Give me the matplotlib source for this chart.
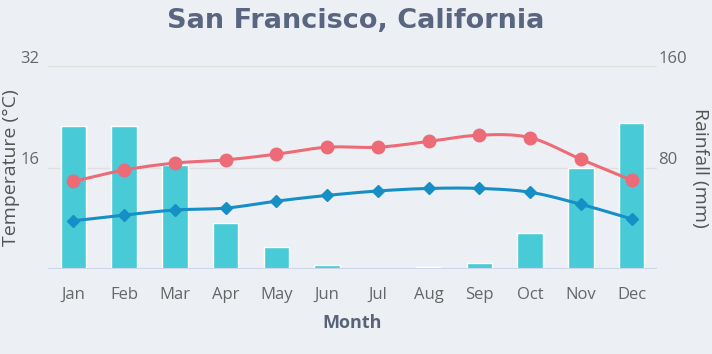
import numpy as np
import matplotlib
matplotlib.use("Agg")
import matplotlib.pyplot as plt
from matplotlib.transforms import ScaledTranslation

months = ["Jan", "Feb", "Mar", "Apr", "May", "Jun",
          "Jul", "Aug", "Sep", "Oct", "Nov", "Dec"]
rainfall = [113, 113, 82, 36, 17, 3, 0.3, 1.5, 4.5, 28, 80, 115]
temp_high = [13.8, 15.6, 16.7, 17.2, 18.1, 19.2, 19.2, 20.1, 21.1, 20.7, 17.3, 14.0]
temp_low = [7.6, 8.5, 9.3, 9.6, 10.7, 11.6, 12.3, 12.7, 12.7, 12.1, 10.2, 7.9]

BG = "#ecf0f5"
BAR = "#48cbd6"
RED = "#ec6b77"
BLUE = "#168ec6"
TXT = "#666666"


def spline(x, y, n=20):
    # smooth curve through the points (cubic hermite, catmull-rom tangents)
    x = np.asarray(x, float)
    y = np.asarray(y, float)
    m = np.zeros_like(y)
    m[1:-1] = (y[2:] - y[:-2]) / (x[2:] - x[:-2])
    m[0] = (y[1] - y[0]) / (x[1] - x[0])
    m[-1] = (y[-1] - y[-2]) / (x[-1] - x[-2])
    xs, ys = [], []
    for i in range(len(x) - 1):
        h = x[i + 1] - x[i]
        t = np.linspace(0, 1, n, endpoint=False)
        h00 = 2 * t**3 - 3 * t**2 + 1
        h10 = t**3 - 2 * t**2 + t
        h01 = -2 * t**3 + 3 * t**2
        h11 = t**3 - t**2
        xs.append(x[i] + t * h)
        ys.append(h00 * y[i] + h10 * h * m[i] + h01 * y[i + 1] + h11 * h * m[i + 1])
    xs.append([x[-1]])
    ys.append([y[-1]])
    return np.concatenate(xs), np.concatenate(ys)


fig = plt.figure(figsize=(7.12, 3.54), dpi=100, facecolor=BG)
ax = fig.add_axes([48 / 712, 1 - 269 / 354, 609 / 712, 203 / 354])
ax.set_facecolor(BG)
ax2 = ax.twinx()

x = np.arange(len(months))
ax2.bar(x, rainfall, width=0.5, color=BAR, edgecolor="white", linewidth=1.0, zorder=1)
ax2.set_ylim(0, 160)
ax2.set_yticks([80, 160])

# lines on top of bars
ax.set_zorder(ax2.get_zorder() + 1)
ax.patch.set_visible(False)
ax2.patch.set_visible(True)
ax2.patch.set_facecolor(BG)

sx, sy = spline(x, temp_high)
ax.plot(sx, sy, color=RED, lw=2.2, zorder=3)
ax.plot(x, temp_high, "o", color=RED, ms=9, zorder=4)
sx, sy = spline(x, temp_low)
ax.plot(sx, sy, color=BLUE, lw=2.2, zorder=3)
ax.plot(x, temp_low, "D", color=BLUE, ms=6.5, zorder=4)

ax.set_xlim(-0.5, 11.5)
ax.set_ylim(0, 32)
ax.set_yticks([0, 16, 32])
ax.set_yticklabels(["", "16", "32"])
ax.set_xticks(x)
ax.set_xticklabels(months)

for a in (ax, ax2):
    for s in a.spines.values():
        s.set_visible(False)
    a.tick_params(length=0, colors=TXT, labelsize=12)
    for lab in a.get_xticklabels() + a.get_yticklabels():
        lab.set_family("Open Sans")
ax.tick_params(axis="x", pad=13)
ax.tick_params(axis="y", pad=6)
ax2.tick_params(axis="y", pad=1)

# y tick labels sit just above their grid lines
up = ScaledTranslation(0, 9 / 100, fig.dpi_scale_trans)
for a in (ax, ax2):
    for lab in a.get_yticklabels():
        lab.set_transform(lab.get_transform() + up)

ax2.grid(axis="y", color="#e0e0e0", lw=1, zorder=0)
ax2.axhline(0, color="#ccd6eb", lw=1.5, zorder=2)
ax2.set_axisbelow(True)

ax.set_ylabel("Temperature (°C)", family="Open Sans", fontsize=14, color="#555555", va="center")
ax.yaxis.set_label_coords(-0.06, 0.5)
ax2.set_ylabel("Rainfall (mm)", family="Open Sans", fontsize=14, color="#555555",
               rotation=270, va="center")
ax2.yaxis.set_label_coords(1.07, 0.5)
ax.set_xlabel("Month", family="Open Sans", fontsize=13, fontweight="bold", color="#586378", va="center")
ax.xaxis.set_label_coords(0.5, -(323 - 269) / 203)

fig.text(0.5, 1 - 21 / 354, "San Francisco, California", ha="center", va="center",
         fontsize=19.5, fontweight="bold", color="#5a6680", family="DejaVu Sans")

fig.savefig("out.png", dpi=100, facecolor=BG)
